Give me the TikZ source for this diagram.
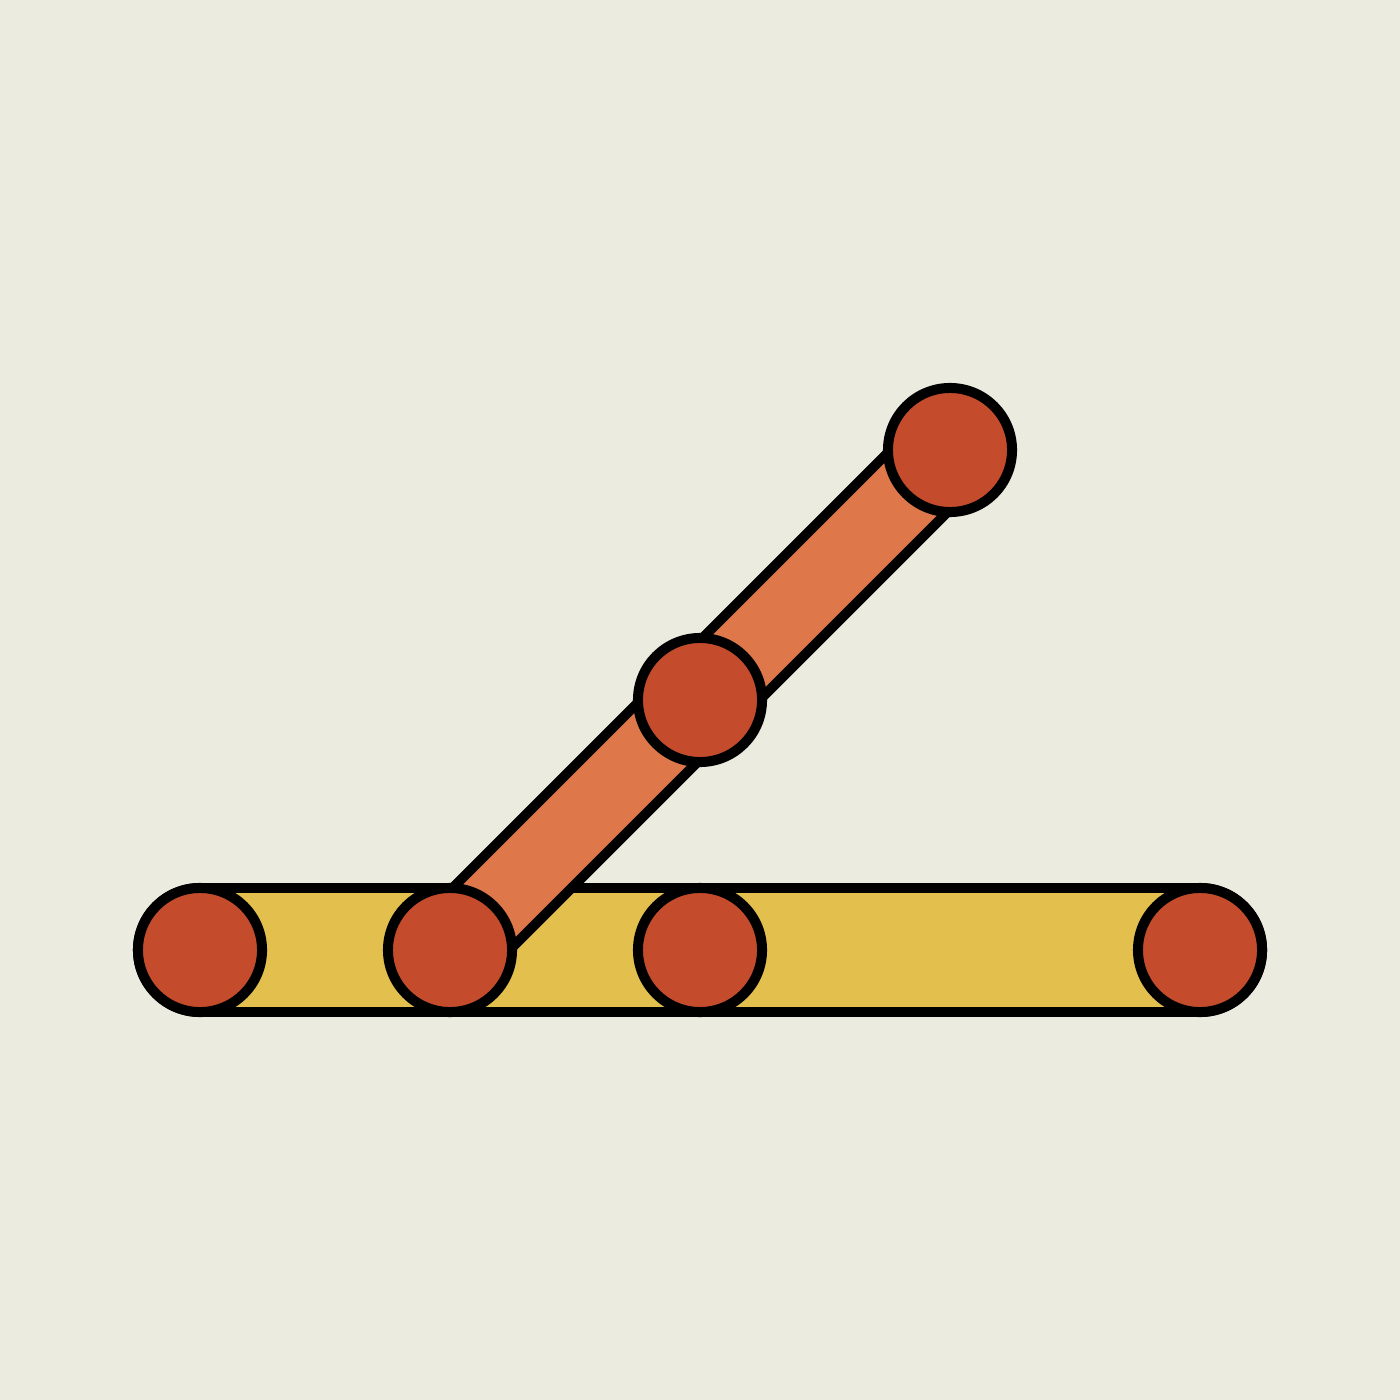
\documentclass[tikz,border=0pt]{standalone}
\definecolor{bg}{HTML}{EBEBDF}
\definecolor{ybar}{HTML}{E3BF4D}
\definecolor{obar}{HTML}{DE784A}
\definecolor{dot}{HTML}{C44C2C}
\begin{document}
\begin{tikzpicture}[x=0.01cm,y=-0.01cm,
  joint/.style={circle,draw=black,fill=dot,line width=0.1cm,minimum size=1.24cm,inner sep=0pt,outer sep=0pt},
  barout/.style={line width=#1,draw=black},
  barin/.style={line width=#1},
]
\fill[bg] (0,0) rectangle (1400,1400);
\useasboundingbox (0,0) rectangle (1400,1400);
\coordinate (p1) at (200,950);
\coordinate (p2) at (450,950);
\coordinate (p3) at (700,950);
\coordinate (p4) at (1200,950);
\coordinate (p5) at (700,700);
\coordinate (p6) at (950,450);
% yellow bar
\draw[barout=1.34cm,line cap=round] (p1) -- (p4);
\draw[barin=1.14cm,line cap=round,draw=ybar] (p1) -- (p4);
% orange bar
\draw[barout=0.94cm,line cap=butt] (p2) -- (p6);
\draw[barin=0.74cm,line cap=butt,draw=obar] (p2) -- (p6);
% joints
\node[joint] (c1) at (p1) {};
\node[joint] (c2) at (p2) {};
\node[joint] (c3) at (p3) {};
\node[joint] (c4) at (p4) {};
\node[joint] (c5) at (p5) {};
\node[joint] (c6) at (p6) {};
\end{tikzpicture}
\end{document}
